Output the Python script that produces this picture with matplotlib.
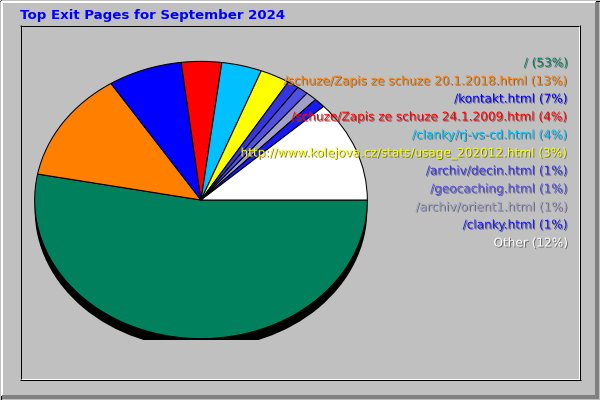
"""Webalizer-style 'Top Exit Pages' pie chart."""
import matplotlib
matplotlib.use("Agg")
import matplotlib.pyplot as plt
import matplotlib.patheffects as pe
from matplotlib.patches import Ellipse
from matplotlib.lines import Line2D

TITLE = "Top Exit Pages for September 2024"
pages = ["/", "/schuze/Zapis ze schuze 20.1.2018.html", "/kontakt.html",
         "/schuze/Zapis ze schuze 24.1.2009.html", "/clanky/rj-vs-cd.html",
         "http://www.kolejova.cz/stats/usage_202012.html", "/archiv/decin.html",
         "/geocaching.html", "/archiv/orient1.html", "/clanky.html", "Other"]
shares = [53.0, 12.9, 7.2, 3.9, 3.9, 2.9, 1.1, 1.1, 1.1, 1.1, 11.8]
pct_labels = [53, 13, 7, 4, 4, 3, 1, 1, 1, 1, 12]
colors = ["#00805C", "#FF8000", "#0000FF", "#FF0000", "#00C0FF", "#FFFF00",
          "#3535E0", "#5050E0", "#A0A0C8", "#1A1AF0", "#FFFFFF"]

W, H = 600, 400
BG = "#C0C0C0"

fig = plt.figure(figsize=(W / 100, H / 100), dpi=100, facecolor=BG)

# frame / bevel in pixel coordinates
frame = fig.add_axes([0, 0, 1, 1])
frame.set_xlim(0, W); frame.set_ylim(H, 0)
frame.axis("off")

def hline(ax, y, x0, x1, c, lw=1):
    ax.add_line(Line2D([x0, x1], [y, y], color=c, lw=lw * 0.72, solid_capstyle="butt"))

def vline(ax, x, y0, y1, c, lw=1):
    ax.add_line(Line2D([x, x], [y0, y1], color=c, lw=lw * 0.72, solid_capstyle="butt"))

# outer border
hline(frame, 0.5, 0, W, "black"); vline(frame, 0.5, 0, H, "black")
hline(frame, 2, 1, 596, "white", 2); vline(frame, 2, 1, 396, "white", 2)
hline(frame, 396.5, 2, 599, "#808080", 4); vline(frame, 596.5, 2, 399, "#808080", 4)
hline(frame, 399.5, 0, W, "black"); vline(frame, 599.5, 0, H, "black")
# inner panel
hline(frame, 25.5, 20, 580, "black"); vline(frame, 20.5, 25, 380, "black")
hline(frame, 378.5, 21, 579, "white"); vline(frame, 578.5, 26, 379, "white")
hline(frame, 379.5, 20, 581, "black"); vline(frame, 579.5, 25, 380, "black")

# pie as an ellipse: axes box in pixels
cx, cy, rx, ry = 201, 200, 168, 140
pie_ax = fig.add_axes([(cx - rx) / W, (H - cy - ry) / H, 2 * rx / W, 2 * ry / H])
pie_ax.add_patch(Ellipse((0, -10 / ry), 2, 2, facecolor="black", edgecolor="none", zorder=0))
pie_ax.pie(shares, colors=colors, startangle=0, counterclock=False,
           wedgeprops=dict(edgecolor="black", linewidth=0.75, zorder=1))
pie_ax.set_aspect("auto")
pie_ax.set_xlim(-1.01, 1.01); pie_ax.set_ylim(-1.01, 1.01)
pie_ax.axis("off")

# text overlay on top of the pie
txt = fig.add_axes([0, 0, 1, 1])
txt.set_xlim(0, W); txt.set_ylim(H, 0)
txt.axis("off")

txt.text(20, 15, TITLE, color="#0000FF", fontsize=9.6, fontweight="bold",
         va="center", ha="left", family="DejaVu Sans")

# legend text, right aligned with a drop shadow
shadow = [pe.withSimplePatchShadow(offset=(0.75, -0.75), shadow_rgbFace="#505050", alpha=0.75)]
for i, (name, p, c) in enumerate(zip(pages, pct_labels, colors)):
    txt.text(568, 63 + 18 * i, f"{name} ({p}%)", color=c, fontsize=8.7,
             ha="right", va="center", family="DejaVu Sans", path_effects=shadow)

fig.savefig("out.png", dpi=100, facecolor=BG)
